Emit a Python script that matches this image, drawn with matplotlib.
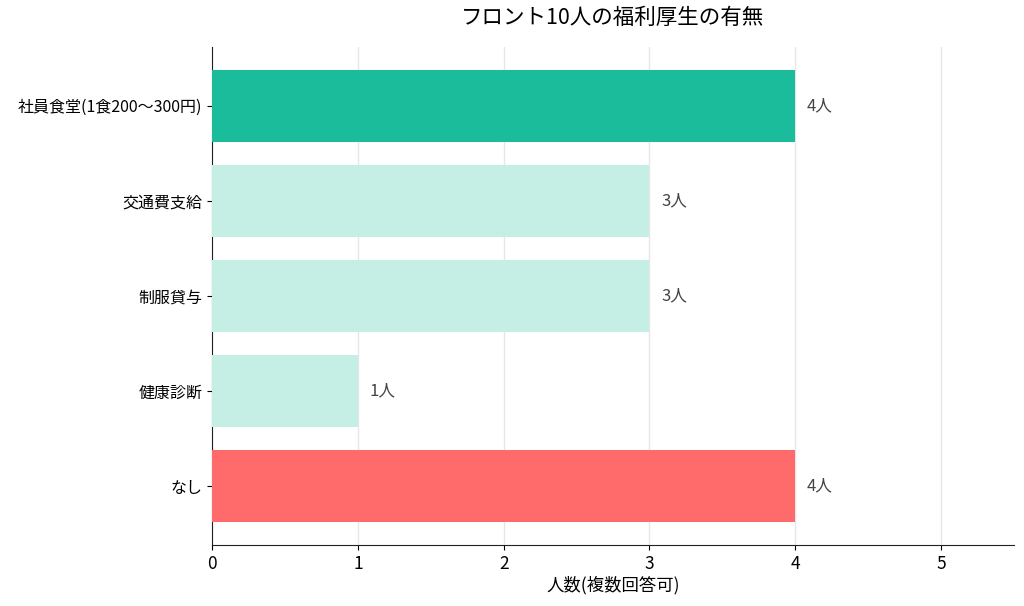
import matplotlib
matplotlib.use("Agg")
import matplotlib.pyplot as plt

categories = ["社員食堂(1食200〜300円)", "交通費支給", "制服貸与", "健康診断", "なし"]
values = [4, 3, 3, 1, 4]
colors = ["#1ABC9C", "#C5EFE5", "#C5EFE5", "#C5EFE5", "#FF6B6B"]
title = "フロント10人の福利厚生の有無"
xlabel = "人数(複数回答可)"

plt.rcParams['font.family'] = ['Noto Sans CJK JP', 'DejaVu Sans']

fig = plt.figure(figsize=(10.24, 6.06), dpi=100)
ax = fig.add_axes([212/1024, 1 - 545/606, (1014-212)/1024, (545-47)/606])

ypos = list(range(len(categories)))
ax.barh(ypos, values, height=0.76, color=colors, zorder=3)
ax.set_yticks(ypos)
ax.set_yticklabels(categories, fontsize=11.5)
ax.invert_yaxis()
ax.set_xlim(0, 5.5)
ax.set_xticks([0, 1, 2, 3, 4, 5])
ax.tick_params(axis='x', labelsize=12.5)
ax.grid(axis='x', color='#e6e6e6', linewidth=1, zorder=0)
ax.spines['top'].set_visible(False)
ax.spines['right'].set_visible(False)
ax.spines['left'].set_color('#222222')
ax.spines['bottom'].set_color('#222222')

for y, v in zip(ypos, values):
    ax.text(v + 0.08, y, f"{v}人", va='center', ha='left', fontsize=12, color='#444444')

ax.set_xlabel(xlabel, fontsize=12.5, labelpad=2)
fig.text(613/1024, 1 - 18/606, title, ha='center', va='center', fontsize=15.5)

fig.savefig("out.png", dpi=100)
